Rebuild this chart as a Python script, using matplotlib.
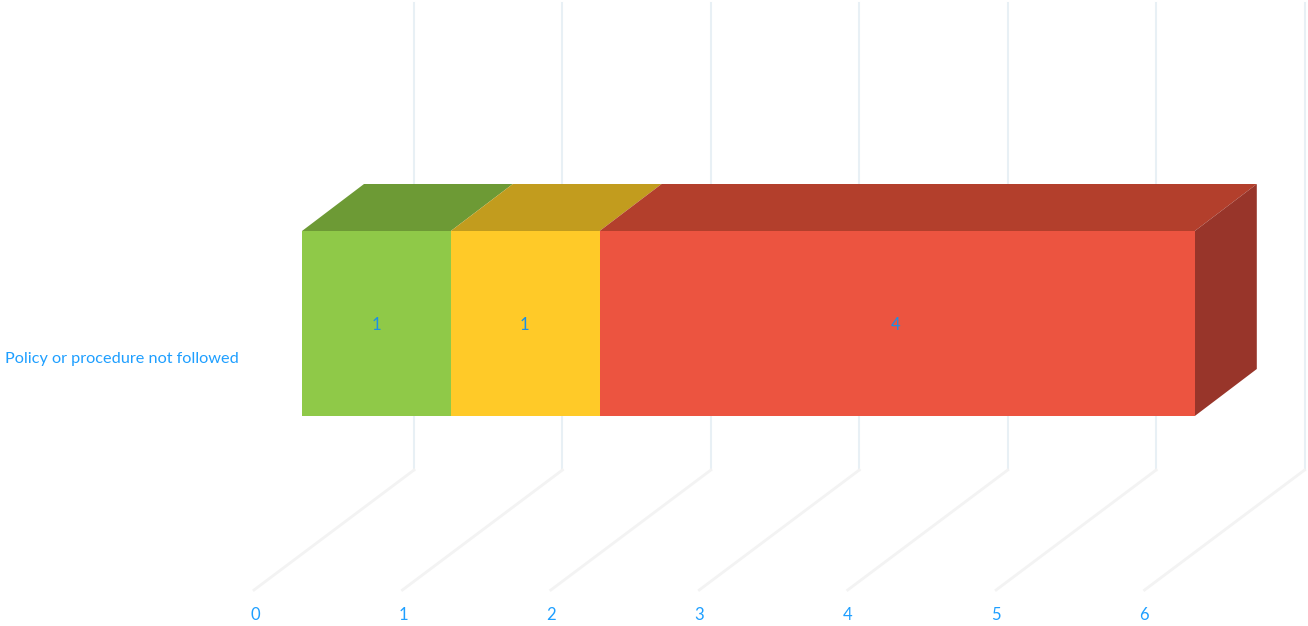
import matplotlib
matplotlib.use("Agg")
import matplotlib.pyplot as plt
from matplotlib.patches import Polygon

plt.rcParams['font.family'] = ['Lato', 'DejaVu Sans']

category = 'Policy or procedure not followed'
values = [1, 1, 4]
tick_labels = ['0', '1', '2', '3', '4', '5', '6']

front_colors = ['#8FC948', '#FFCA28', '#EC5440']
top_colors = ['#6D9A35', '#C29C1E', '#B33F2C']
side_color = '#98352A'
label_color = '#1A90E6'
tick_color = '#1E9FFF'
wall_color = '#E8F0F5'
floor_color = '#F3F3F3'

# pixel layout of the reference
PX_PER_VALUE = 148.8
PX_PER_Y = 185
X0_PX = 302
Y0_PX = 323.5
W, H = 1308, 626
GRID_SCALE = 0.9975  # gridlines run a little tighter than the bars

DEPTH_X = 62 / PX_PER_VALUE
DEPTH_Y = 47 / PX_PER_Y
WALL_X = (414 - X0_PX) / PX_PER_VALUE
FLOOR_X = (254 - X0_PX) / PX_PER_VALUE
WALL_BOTTOM = (Y0_PX - 470) / PX_PER_Y
FLOOR_FRONT = (Y0_PX - 590) / PX_PER_Y
WALL_TOP = (Y0_PX - 3) / PX_PER_Y

fig = plt.figure(figsize=(W / 100, H / 100), dpi=100)
ax = fig.add_axes([0, 0, 1, 1])
ax.set_xlim(-X0_PX / PX_PER_VALUE, (W - X0_PX) / PX_PER_VALUE)
ax.set_ylim((Y0_PX - H) / PX_PER_Y, Y0_PX / PX_PER_Y)
ax.axis('off')

# back wall and floor gridlines
for lab in tick_labels:
    v = float(lab) * GRID_SCALE
    ax.plot([v + WALL_X, v + WALL_X], [WALL_BOTTOM, WALL_TOP], color=wall_color, lw=1.5, zorder=1)
    ax.plot([v + FLOOR_X, v + WALL_X], [FLOOR_FRONT, WALL_BOTTOM], color=floor_color, lw=2, zorder=1)
    ax.text(v * 0.998 + FLOOR_X + 1 / PX_PER_VALUE, (Y0_PX - 615.5) / PX_PER_Y, lab, color=tick_color,
            fontsize=12, ha='center', va='center')

# stacked bar, front face from barh and depth faces on top
left = 0
for val, fc, tc in zip(values, front_colors, top_colors):
    ax.barh(0, val, left=left, height=1, color=fc, zorder=3)
    ax.add_patch(Polygon([(left, 0.5), (left + val, 0.5), (left + val + DEPTH_X, 0.5 + DEPTH_Y),
                          (left + DEPTH_X, 0.5 + DEPTH_Y)], closed=True, facecolor=tc, edgecolor='none', zorder=2))
    ax.text((left + val / 2) * GRID_SCALE, -1 / PX_PER_Y, str(val), color=label_color, fontsize=12,
            ha='center', va='center', zorder=4)
    left += val

ax.add_patch(Polygon([(left, -0.5), (left + DEPTH_X, -0.5 + DEPTH_Y), (left + DEPTH_X, 0.5 + DEPTH_Y),
                      (left, 0.5)], closed=True, facecolor=side_color, edgecolor='none', zorder=2))

ax.text((239 - X0_PX) / PX_PER_VALUE, (Y0_PX - 359) / PX_PER_Y, category, color=tick_color,
        fontsize=11.7, ha='right', va='center')

fig.savefig("out.png", dpi=100)
